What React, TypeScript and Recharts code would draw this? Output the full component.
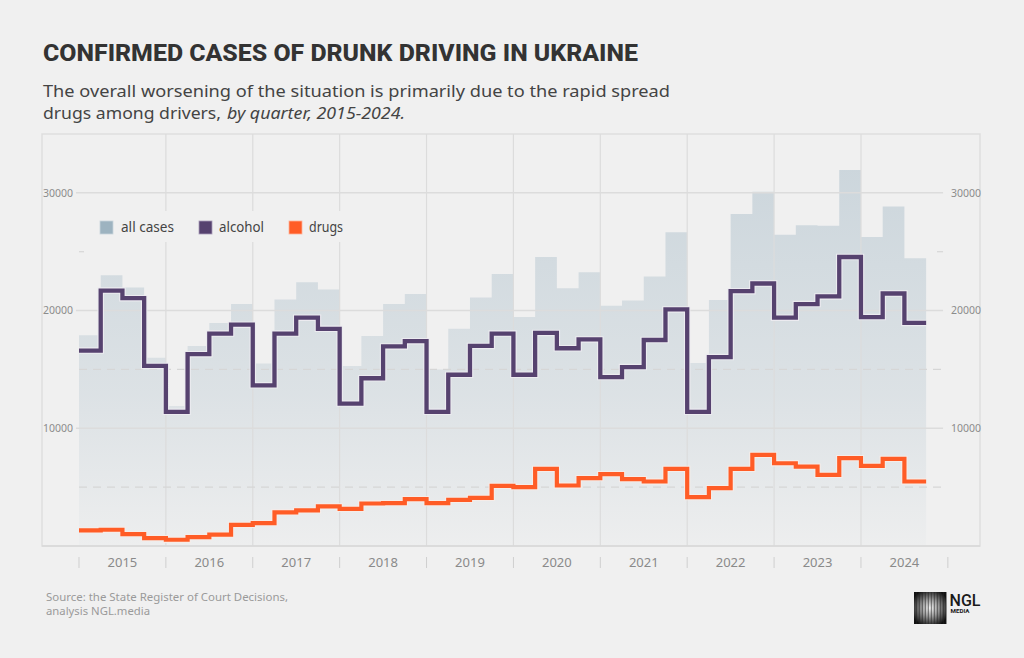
import React from "react";
import {
  ComposedChart,
  Area,
  Line,
  XAxis,
  YAxis,
  ReferenceLine,
  ReferenceArea,
} from "recharts";

// ---------- DATA ----------
const years = ["2015", "2016", "2017", "2018", "2019", "2020", "2021", "2022", "2023", "2024"];
const quarterLabels = ["Q1", "Q2", "Q3", "Q4"];

// all confirmed cases, by quarter (2015 Q1 - 2024 Q3)
const allCases = [
  17900, 23000, 21950, 16000,
  11900, 17000, 18950, 20550,
  15500, 20950, 22400, 21800,
  15300, 17850, 20550, 21400,
  15000, 18450, 21100, 23100,
  19450, 24550, 21900, 23250,
  20400, 20850, 22900, 26650,
  15550, 20900, 28200, 30100,
  26450, 27250, 27200, 31950,
  26250, 28850, 24450,
];

const alcohol = [
  16600, 21700, 21050, 15300,
  11400, 16300, 18050, 18800,
  13650, 18050, 19400, 18450,
  12100, 14250, 16950, 17400,
  11400, 14550, 17000, 18050,
  14550, 18100, 16800, 17550,
  14350, 15200, 17500, 20100,
  11400, 16050, 21650, 22300,
  19400, 20550, 21200, 24550,
  19450, 21450, 18950,
];

const drugs = [
  1320, 1380, 1010, 670,
  530, 760, 960, 1800,
  1950, 2850, 3020, 3360,
  3160, 3610, 3640, 3980,
  3640, 3920, 4090, 5110,
  5000, 6550, 5140, 5760,
  6100, 5680, 5480, 6550,
  4150, 4910, 6550, 7740,
  7030, 6750, 6040, 7460,
  6800, 7400, 5480,
];

const seriesNames = ["all cases", "alcohol", "drugs"];
const solidTicks = [10000, 20000, 30000];
const dashedTicks = [5000, 15000];
const faintTicks = [25000];

// ---------- STYLE / LAYOUT ----------
const W = 1024;
const H = 658;
const BG = "#f0f0f0";
const PLOT_LEFT = 42;
const PLOT_RIGHT = 980;
const PLOT_TOP = 134;
const PLOT_BOTTOM = 546;
const XMIN = -1.703;
const XMAX = 41.48;
const PXQ = (PLOT_RIGHT - PLOT_LEFT) / (XMAX - XMIN);
const YMAX = 35000;

const C_ALL = "#9db3c0";
const C_ALC = "#56426f";
const C_DRG = "#ff5c26";
const GRID = "#dcdcdc";
const FONT = "'Noto Sans', 'Open Sans', sans-serif";

// build table (extra closing point so the last step has width)
const n = allCases.length;
const data = Array.from({ length: n + 1 }, (_, i) => {
  const k = Math.min(i, n - 1);
  return {
    x: i,
    label: i < n ? `${years[Math.floor(i / 4)]} ${quarterLabels[i % 4]}` : "",
    all: allCases[k],
    alcohol: alcohol[k],
    drugs: drugs[k],
  };
});

const yearTicks = [...years.map((_, i) => i * 4), years.length * 4];
const yearGridX = years.slice(1).map((_, i) => (i + 1) * 4);

const GRID_X0 = -0.14;
const GRID_X1 = 39.78;

const renderYearTick = (props: any) => {
  const { x, y, payload } = props;
  const idx = Math.round(payload.value / 4);
  const label = years[idx];
  return (
    <g>
      <line x1={x} x2={x} y1={y + 11} y2={y + 22} stroke="#cfcfcf" strokeWidth={1} />
      {label ? (
        <text
          x={x + 2 * PXQ}
          y={y + 20.5}
          textAnchor="middle"
          fontSize={13}
          fontFamily={FONT}
          fill="#8a8a8a"
        >
          {label}
        </text>
      ) : null}
    </g>
  );
};

const YLabels = (props: any) => {
  const vb = props.viewBox || {};
  const yy = vb.y ?? 0;
  const x0 = vb.x ?? 0;
  const x1 = x0 + (vb.width ?? 0);
  const txt = String(props.val);
  return (
    <g>
      <text
        x={x0 - 3}
        y={yy}
        dy="0.35em"
        textAnchor="end"
        fontSize={10.5}
        fontFamily={FONT}
        fill="#8c8c8c"
      >
        {txt}
      </text>
      <text
        x={x1 + 8}
        y={yy}
        dy="0.35em"
        textAnchor="start"
        fontSize={10.5}
        fontFamily={FONT}
        fill="#8c8c8c"
      >
        {txt}
      </text>
    </g>
  );
};

function Logo() {
  const stripes = Array.from({ length: 11 }, (_, i) => i);
  return (
    <g>
      <defs>
        <radialGradient id="logoGrad" cx="0.5" cy="0.5" r="0.6">
          <stop offset="0" stopColor="#f4f4f4" />
          <stop offset="0.45" stopColor="#9a9a9a" />
          <stop offset="1" stopColor="#111" />
        </radialGradient>
      </defs>
      <rect x={914} y={592} width={32} height={32} fill="url(#logoGrad)" />
      {stripes.map((i) => (
        <rect key={i} x={914 + i * 3 + 1.8} y={592} width={1.1} height={32} fill="#222" opacity={0.55} />
      ))}
      <text x={949.5} y={605.5} fontSize={17} fontWeight={500} fontFamily="Roboto, sans-serif" fill="#1a1a1a" textLength={31} lengthAdjust="spacingAndGlyphs">
        NGL
      </text>
      <text x={950.5} y={612.5} fontSize={5.5} fontWeight={700} fontFamily="Roboto, sans-serif" fill="#1a1a1a" textLength={19} lengthAdjust="spacingAndGlyphs">
        MEDIA
      </text>
    </g>
  );
}

export default function App() {
  return (
    <div style={{ position: "absolute", left: 0, top: 0, width: W, height: H, background: BG }}>
      <ComposedChart
        width={W}
        height={H}
        data={data}
        margin={{ top: PLOT_TOP, right: W - PLOT_RIGHT, bottom: H - PLOT_BOTTOM - 30, left: PLOT_LEFT }}
      >
        <defs>
          <linearGradient id="allGrad" x1="0" y1="0" x2="0" y2="1">
            <stop offset="0" stopColor="#c1ced6" stopOpacity={0.76} />
            <stop offset="0.6" stopColor="#c1ced6" stopOpacity={0.42} />
            <stop offset="1" stopColor="#c1ced6" stopOpacity={0.06} />
          </linearGradient>
        </defs>
        <XAxis
          type="number"
          dataKey="x"
          domain={[XMIN, XMAX]}
          allowDataOverflow
          ticks={yearTicks}
          interval={0}
          height={30}
          tickSize={0}
          tickMargin={0}
          tickLine={false}
          axisLine={{ stroke: "#d8d8d8", strokeWidth: 1.5 }}
          tick={renderYearTick}
        />
        <YAxis type="number" domain={[0, YMAX]} hide allowDataOverflow />
        <ReferenceArea
          x1={XMIN}
          x2={XMAX}
          y1={0}
          y2={YMAX}
          fill="none"
          fillOpacity={0}
          stroke="#dedede"
          strokeWidth={1.5}
          ifOverflow="visible"
        />
        {yearGridX.map((gx) => (
          <ReferenceLine key={"v" + gx} x={gx} stroke={GRID} strokeWidth={1.2} />
        ))}
        {dashedTicks.map((v) => (
          <ReferenceLine
            key={"d" + v}
            segment={[{ x: 0, y: v }, { x: GRID_X1, y: v }]}
            stroke="#d6d6d6"
            strokeWidth={1.2}
            strokeDasharray="8 6"
          />
        ))}
        {faintTicks.map((v) => (
          <ReferenceLine
            key={"f1" + v}
            segment={[{ x: 0, y: v }, { x: 0.23, y: v }]}
            stroke="#d6d6d6"
            strokeWidth={1.2}
          />
        ))}
        {faintTicks.map((v) => (
          <ReferenceLine
            key={"f2" + v}
            segment={[{ x: 39.5, y: v }, { x: GRID_X1, y: v }]}
            stroke="#d6d6d6"
            strokeWidth={1.2}
          />
        ))}
        {solidTicks.map((v) => (
          <ReferenceLine
            key={"s" + v}
            segment={[{ x: GRID_X0, y: v }, { x: GRID_X1, y: v }]}
            stroke={GRID}
            strokeWidth={1.5}
            label={<YLabels val={v} />}
          />
        ))}
        <Area
          type="stepAfter"
          dataKey="all"
          name={seriesNames[0]}
          stroke="none"
          fill="url(#allGrad)"
          fillOpacity={1}
          baseValue={0}
          isAnimationActive={false}
          dot={false}
          activeDot={false}
        />
        <Line
          type="stepAfter"
          dataKey="alcohol"
          stroke="#ecebf0"
          strokeWidth={6.5}
          dot={false}
          activeDot={false}
          isAnimationActive={false}
          legendType="none"
        />
        <Line
          type="stepAfter"
          dataKey="alcohol"
          name={seriesNames[1]}
          stroke={C_ALC}
          strokeWidth={4.3}
          strokeLinejoin="miter"
          dot={false}
          activeDot={false}
          isAnimationActive={false}
        />
        <Line
          type="stepAfter"
          dataKey="drugs"
          stroke="#f6ece8"
          strokeWidth={6.3}
          dot={false}
          activeDot={false}
          isAnimationActive={false}
          legendType="none"
        />
        <Line
          type="stepAfter"
          dataKey="drugs"
          name={seriesNames[2]}
          stroke={C_DRG}
          strokeWidth={4.2}
          strokeLinejoin="miter"
          dot={false}
          activeDot={false}
          isAnimationActive={false}
        />
      </ComposedChart>

      <svg
        width={W}
        height={H}
        style={{ position: "absolute", left: 0, top: 0, pointerEvents: "none" }}
      >
        {/* title */}
        <text
          x={43}
          y={61}
          fontSize={24}
          fontWeight={800}
          fontFamily="Roboto, sans-serif"
          fill="#333333"
          textLength={595}
          lengthAdjust="spacingAndGlyphs"
        >
          CONFIRMED CASES OF DRUNK DRIVING IN UKRAINE
        </text>
        {/* subtitle */}
        <text x={43} y={97} fontSize={17} fontFamily={FONT} fill="#444" textLength={627} lengthAdjust="spacingAndGlyphs">
          The overall worsening of the situation is primarily due to the rapid spread
        </text>
        <text x={43} y={119} fontSize={17} fontFamily={FONT} fill="#444" textLength={178} lengthAdjust="spacingAndGlyphs">
          drugs among drivers,
        </text>
        <text x={227} y={119} fontSize={17} fontStyle="italic" fontFamily={FONT} fill="#444" textLength={178} lengthAdjust="spacingAndGlyphs">
          by quarter, 2015-2024.
        </text>

        {/* legend */}
        <rect x={92} y={211} width={258} height={31} fill={BG} />
        <rect x={100} y={221} width={13} height={13} fill={C_ALL} stroke="#c9d5dc" strokeWidth={0.8} />
        <text x={121} y={231.5} fontSize={14.5} fontFamily={FONT} fill="#444" textLength={53} lengthAdjust="spacingAndGlyphs">
          {seriesNames[0]}
        </text>
        <rect x={199} y={221} width={13} height={13} fill={C_ALC} stroke="#a89cb8" strokeWidth={0.8} />
        <text x={219} y={231.5} fontSize={14.5} fontFamily={FONT} fill="#444" textLength={45} lengthAdjust="spacingAndGlyphs">
          {seriesNames[1]}
        </text>
        <rect x={289} y={221} width={13} height={13} fill={C_DRG} stroke="#ffb298" strokeWidth={0.8} />
        <text x={309} y={231.5} fontSize={14.5} fontFamily={FONT} fill="#444" textLength={34} lengthAdjust="spacingAndGlyphs">
          {seriesNames[2]}
        </text>

        {/* source */}
        <text x={46} y={601} fontSize={11.5} fontFamily={FONT} fill="#9a9a9a" textLength={242} lengthAdjust="spacingAndGlyphs">
          Source: the State Register of Court Decisions,
        </text>
        <text x={46} y={614.5} fontSize={11.5} fontFamily={FONT} fill="#9a9a9a" textLength={104} lengthAdjust="spacingAndGlyphs">
          analysis NGL.media
        </text>

        <Logo />
      </svg>
    </div>
  );
}
